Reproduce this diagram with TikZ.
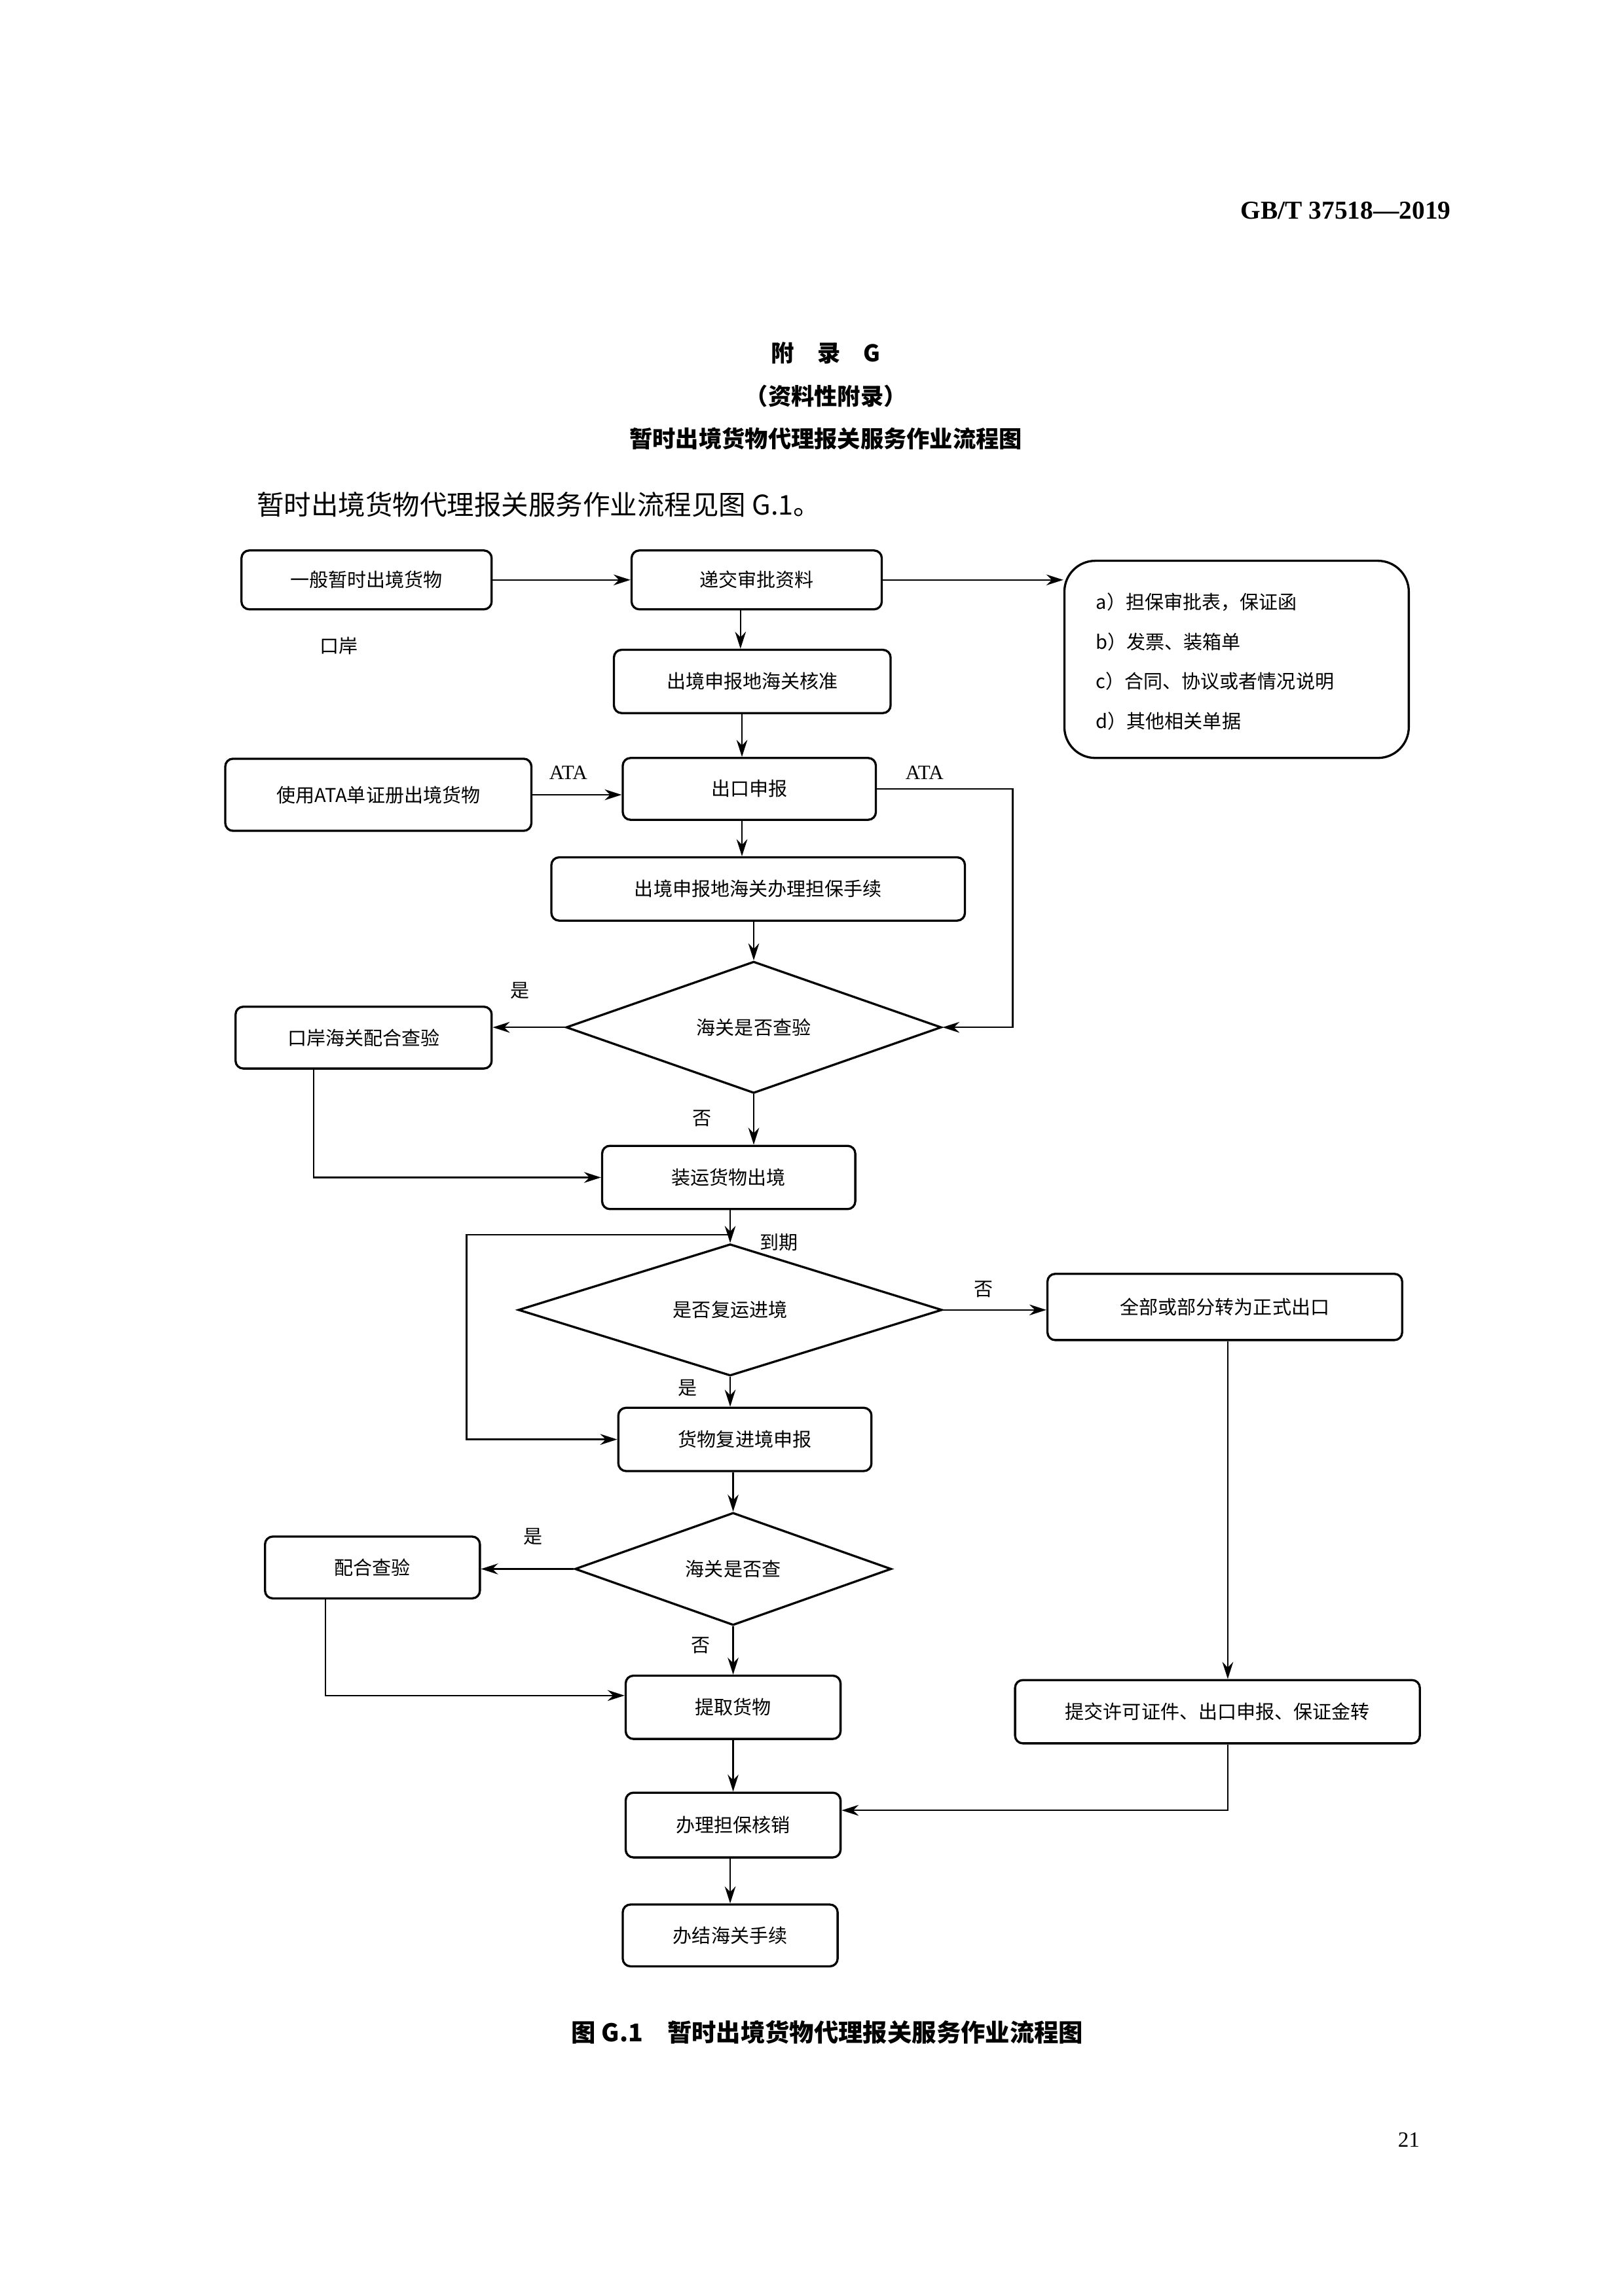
\documentclass[tikz,border=0pt]{standalone}
\usepackage{fontspec}
\setmainfont{Noto Sans CJK SC}
\newfontfamily\lat{Liberation Serif}
\usetikzlibrary{arrows.meta,shapes.geometric}
\def\myu{*0.5417pt}
\begin{document}
\begin{tikzpicture}[x=0.01904cm,y=-0.01904cm,
 box/.style={draw,line width=0.8pt,rounded corners=1mm,inner sep=0pt,font=\fontsize{7}{8}\selectfont},
 dia/.style={draw,line width=0.8pt,diamond,inner sep=0pt,font=\fontsize{7}{8}\selectfont},
 lab/.style={font=\fontsize{7}{8}\selectfont},
 ar/.style={draw,line width=0.6pt,-{Stealth[length=2.2mm,width=1.4mm]}},
 ln/.style={draw,line width=0.6pt}]
\useasboundingbox (0,0) rectangle (1103,1560);
\node[font=\lat\bfseries\fontsize{9.5}{11}\selectfont,anchor=east] (hdr) at (992,143) {GB/T 37518—2019};
\node[font=\bfseries\fontsize{8.5}{10}\selectfont] (t1) at (561,240) {附\quad 录\quad G};
\node[font=\bfseries\fontsize{8.5}{10}\selectfont] (t2) at (561,269) {（资料性附录）};
\node[font=\bfseries\fontsize{8.5}{10}\selectfont] (t3) at (561,298) {暂时出境货物代理报关服务作业流程图};
\node[font=\fontsize{10}{12}\selectfont,anchor=west] (intro) at (168,343) {暂时出境货物代理报关服务作业流程见图 G.1。};

\node[box,minimum width=170\myu,minimum height=40\myu] (b1) at (249,394) {一般暂时出境货物};
\node[box,minimum width=170\myu,minimum height=40\myu] (b2) at (514,394) {递交审批资料};
\node[draw,line width=0.8pt,rounded corners=4mm,minimum width=234\myu,minimum height=134\myu] (b3) at (840,448) {};
\node[lab,anchor=west] (n1) at (738,409) {a）担保审批表，保证函};
\node[lab,anchor=west] (n2) at (738,436) {b）发票、装箱单};
\node[lab,anchor=west] (n3) at (738,463) {c）合同、协议或者情况说明};
\node[lab,anchor=west] (n4) at (738,490) {d）其他相关单据};
\node[lab] (kouan) at (230,439) {口岸};
\node[box,minimum width=188\myu,minimum height=43\myu] (b4) at (511,463) {出境申报地海关核准};
\node[box,minimum width=208\myu,minimum height=49\myu] (b5) at (257,540) {使用ATA单证册出境货物};
\node[box,minimum width=172\myu,minimum height=42\myu] (b6) at (509,536) {出口申报};
\node[lab,font=\lat\fontsize{7.5}{8}\selectfont] (ata1) at (386,525) {ATA};
\node[lab,font=\lat\fontsize{7.5}{8}\selectfont] (ata2) at (628,525) {ATA};
\node[box,minimum width=281\myu,minimum height=43\myu] (b7) at (515,604) {出境申报地海关办理担保手续};
\node[dia,minimum width=255\myu,minimum height=80\myu] (d1) at (512,698) {海关是否查验};
\node[box,minimum width=174\myu,minimum height=42\myu] (b8) at (247,705) {口岸海关配合查验};
\node[lab] (y1) at (353,673) {是};
\node[lab] (n1b) at (477,760) {否};
\node[box,minimum width=172\myu,minimum height=43\myu] (b9) at (495,800) {装运货物出境};
\node[lab] (dq) at (529,844) {到期};
\node[dia,minimum width=288\myu,minimum height=72\myu] (d2) at (496,890) {是否复运进境};
\node[box,minimum width=241\myu,minimum height=45\myu] (b10) at (832,888) {全部或部分转为正式出口};
\node[lab] (n2b) at (668,876) {否};
\node[lab] (y2) at (467,943) {是};
\node[box,minimum width=172\myu,minimum height=43\myu] (b11) at (506,978) {货物复进境申报};
\node[dia,minimum width=215\myu,minimum height=76\myu] (d3) at (498,1066) {海关是否查};
\node[box,minimum width=146\myu,minimum height=42\myu] (b12) at (253,1065) {配合查验};
\node[lab] (y3) at (362,1044) {是};
\node[lab] (n3b) at (476,1118) {否};
\node[box,minimum width=146\myu,minimum height=43\myu] (b13) at (498,1160) {提取货物};
\node[box,minimum width=275\myu,minimum height=43\myu] (b14) at (827,1163) {提交许可证件、出口申报、保证金转};
\node[box,minimum width=146\myu,minimum height=44\myu] (b15) at (498,1240) {办理担保核销};
\node[box,minimum width=146\myu,minimum height=42\myu] (b16) at (496,1315) {办结海关手续};
\node[font=\bfseries\fontsize{9}{11}\selectfont] (cap) at (562,1381) {图 G.1\quad 暂时出境货物代理报关服务作业流程图};
\node[font=\lat\fontsize{8}{10}\selectfont] (pg) at (957,1454) {21};

\draw[ar] (b1.east) -- (b2.west);
\draw[ar] (b2.east) -- (b3.west |- b2.east);
\draw[ar] (b2.south -| 503,0) -- (b4.north -| 503,0);
\draw[ar] (b4.south -| 504,0) -- (b6.north -| 504,0);
\draw[ar] (b5.east |- 0,540) -- (b6.west |- 0,540);
\draw[ar] (b6.south -| 504,0) -- (b7.north -| 504,0);
\draw[ar] (b6.east) -- (688,536) -- (688,698) -- (d1.east);
\draw[ar] (b7.south -| d1.north) -- (d1.north);
\draw[ar] (d1.west) -- (b8.east |- d1.west);
\draw[ar] (d1.south) -- (b9.north -| d1.south);
\draw[ar] (b8.south -| 213,0) -- (213,800) -- (b9.west);
\coordinate (lp) at (496,839);
\draw[ar] (b9.south -| d2.north) -- (d2.north);
\draw[ar] (lp) -- (317,839) -- (317,978) -- (b11.west);
\draw[ar] (d2.east) -- (b10.west |- d2.east);
\draw[ar] (d2.south) -- (b11.north -| d2.south);
\draw[ar] (b11.south -| d3.north) -- (d3.north);
\draw[ar] (d3.west) -- (b12.east |- d3.west);
\draw[ar] (d3.south) -- (b13.north -| d3.south);
\draw[ar] (b12.south -| 221,0) -- (221,1152) -- (b13.west |- 0,1152);
\draw[ar] (b10.south -| 834,0) -- (b14.north -| 834,0);
\draw[ar] (b13.south -| 498,0) -- (b15.north -| 498,0);
\draw[ar] (b14.south -| 834,0) -- (834,1230) -- (b15.east |- 0,1230);
\draw[ar] (b15.south -| 496,0) -- (b16.north -| 496,0);
\end{tikzpicture}
\end{document}
